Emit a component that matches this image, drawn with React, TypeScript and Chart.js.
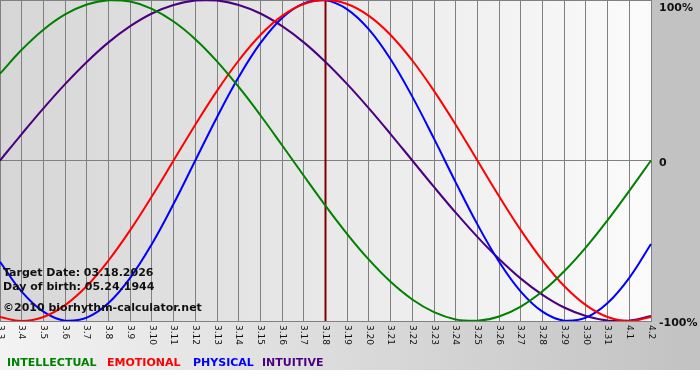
import React, { useEffect, useRef } from 'react';
import { Chart, registerables } from 'chart.js';

Chart.register(...registerables);

const dates = [
  '3.3', '3.4', '3.5', '3.6', '3.7', '3.8', '3.9', '3.10', '3.11', '3.12', '3.13', '3.14', '3.15', '3.16', '3.17',
  '3.18', '3.19', '3.20', '3.21', '3.22', '3.23', '3.24', '3.25', '3.26', '3.27', '3.28', '3.29', '3.30', '3.31',
  '4.1', '4.2',
];

const intellectual = [
  0.541, 0.69, 0.815, 0.91, 0.972, 0.999, 0.99, 0.945, 0.866, 0.756, 0.618, 0.458, 0.282, 0.095, -0.095,
  -0.282, -0.458, -0.618, -0.756, -0.866, -0.945, -0.99, -0.999, -0.972, -0.91, -0.815, -0.69, -0.541, -0.372,
  -0.189, 0.0,
];

const emotional = [
  -0.975, -1.0, -0.975, -0.901, -0.782, -0.623, -0.434, -0.223, 0.0, 0.223, 0.434, 0.623, 0.782, 0.901, 0.975,
  1.0, 0.975, 0.901, 0.782, 0.623, 0.434, 0.223, 0.0, -0.223, -0.434, -0.623, -0.782, -0.901, -0.975,
  -1.0, -0.975,
];

const physical = [
  -0.631, -0.817, -0.942, -0.998, -0.979, -0.888, -0.731, -0.52, -0.27, 0.0, 0.27, 0.52, 0.731, 0.888, 0.979,
  0.998, 0.942, 0.817, 0.631, 0.398, 0.136, -0.136, -0.398, -0.631, -0.817, -0.942, -0.998, -0.979, -0.888,
  -0.731, -0.52,
];

const intuitive = [
  0.0, 0.165, 0.325, 0.476, 0.614, 0.736, 0.837, 0.916, 0.969, 0.997, 0.997, 0.969, 0.916, 0.837, 0.736,
  0.614, 0.476, 0.325, 0.165, 0.0, -0.165, -0.325, -0.476, -0.614, -0.736, -0.837, -0.916, -0.969, -0.997,
  -0.997, -0.969,
];

const seriesNames = ['INTELLECTUAL', 'EMOTIONAL', 'PHYSICAL', 'INTUITIVE'];
const seriesColors = ['#008000', '#ff0000', '#0000ff', '#4b0082'];
const yTickValues = [1, 0, -1];
const yTickLabels = ['100%', '0', '-100%'];
const targetLabel = '3.18';
const infoLines = ['Target Date: 03.18.2026', 'Day of birth: 05.24.1944', '©2010 biorhythm-calculator.net'];

const FONT = '"DejaVu Sans", Verdana, sans-serif';

const decorPlugin = {
  id: 'decor',
  beforeDraw(chart: any) {
    const ctx = chart.ctx as CanvasRenderingContext2D;
    const { left, right, top, bottom } = chart.chartArea;
    const W = chart.width;
    ctx.save();
    ctx.fillStyle = '#ffffff';
    ctx.fillRect(0, 0, W, chart.height);
    const g = ctx.createLinearGradient(left, 0, right, 0);
    g.addColorStop(0, '#d6d6d6');
    g.addColorStop(1, '#fbfbfb');
    ctx.fillStyle = g;
    ctx.fillRect(left, top, right - left, bottom - top);
    ctx.fillStyle = '#c2c2c2';
    ctx.fillRect(right, top, W - right, bottom - top);
    const g2 = ctx.createLinearGradient(0, 0, W, 0);
    g2.addColorStop(0, '#f3f3f3');
    g2.addColorStop(1, '#c2c2c2');
    ctx.fillStyle = g2;
    ctx.fillRect(0, bottom, W, 370 - bottom);
    ctx.restore();
  },
  beforeDatasetsDraw(chart: any) {
    const ctx = chart.ctx as CanvasRenderingContext2D;
    const { top, bottom } = chart.chartArea;
    const xs = chart.scales.x;
    const x = xs.getPixelForValue(dates.indexOf(targetLabel));
    ctx.save();
    ctx.strokeStyle = '#800000';
    ctx.lineWidth = 2;
    ctx.beginPath();
    ctx.moveTo(x, top);
    ctx.lineTo(x, bottom);
    ctx.stroke();
    ctx.restore();
  },
  afterDraw(chart: any) {
    const ctx = chart.ctx as CanvasRenderingContext2D;
    const { right, bottom } = chart.chartArea;
    const xs = chart.scales.x;
    const ys = chart.scales.y;
    ctx.save();
    ctx.fillStyle = '#111111';
    ctx.font = `9px ${FONT}`;
    ctx.textAlign = 'left';
    ctx.textBaseline = 'middle';
    dates.forEach((d, i) => {
      const x = xs.getPixelForTick(i);
      ctx.save();
      ctx.translate(x, bottom + 4);
      ctx.rotate(Math.PI / 2);
      ctx.fillText(d, 0, 0);
      ctx.restore();
    });
    ctx.font = `bold 11px ${FONT}`;
    ctx.textBaseline = 'alphabetic';
    yTickValues.forEach((v, i) => {
      let y = ys.getPixelForValue(v) + 5;
      if (y < 11) y = 11;
      ctx.fillText(yTickLabels[i], right + 8, y);
    });
    ctx.fillStyle = '#111111';
    ctx.font = `bold 11px ${FONT}`;
    const baselines = [276, 290, 311];
    infoLines.forEach((t, i) => ctx.fillText(t, 3, baselines[i]));
    const legendX = [7, 107, 193, 262];
    ctx.font = `bold 11px ${FONT}`;
    seriesNames.forEach((n, i) => {
      ctx.fillStyle = seriesColors[i];
      ctx.fillText(n, legendX[i], 366);
    });
    ctx.restore();
  },
};

export default function App() {
  const ref = useRef<HTMLCanvasElement | null>(null);
  useEffect(() => {
    if (!ref.current) return;
    const seriesData = [intellectual, emotional, physical, intuitive];
    const chart = new Chart(ref.current, {
      type: 'line',
      data: {
        labels: dates,
        datasets: seriesNames.map((n, i) => ({
          label: n,
          data: seriesData[i],
          borderColor: seriesColors[i],
          borderWidth: 2,
          pointRadius: 0,
          tension: 0.4,
          fill: false,
        })),
      },
      options: {
        animation: false,
        responsive: false,
        maintainAspectRatio: false,
        layout: { padding: { left: 0, top: 0, right: 49, bottom: 59 } },
        plugins: { legend: { display: false }, tooltip: { enabled: false } },
        scales: {
          x: {
            type: 'category',
            offset: false,
            grid: { color: '#808080', lineWidth: 1, drawTicks: false },
            border: { color: '#808080' },
            ticks: { display: false },
          },
          y: {
            position: 'right',
            min: -1,
            max: 1,
            grid: { color: '#808080', lineWidth: 1, drawTicks: false },
            border: { color: '#808080' },
            ticks: { display: false, stepSize: 1 },
          },
        },
      },
      plugins: [decorPlugin],
    });
    return () => chart.destroy();
  }, []);
  return (
    <div style={{ position: 'fixed', left: 0, top: 0, width: 700, height: 380 }}>
      <canvas ref={ref} width={700} height={380} style={{ width: 700, height: 380, display: 'block' }} />
    </div>
  );
}
